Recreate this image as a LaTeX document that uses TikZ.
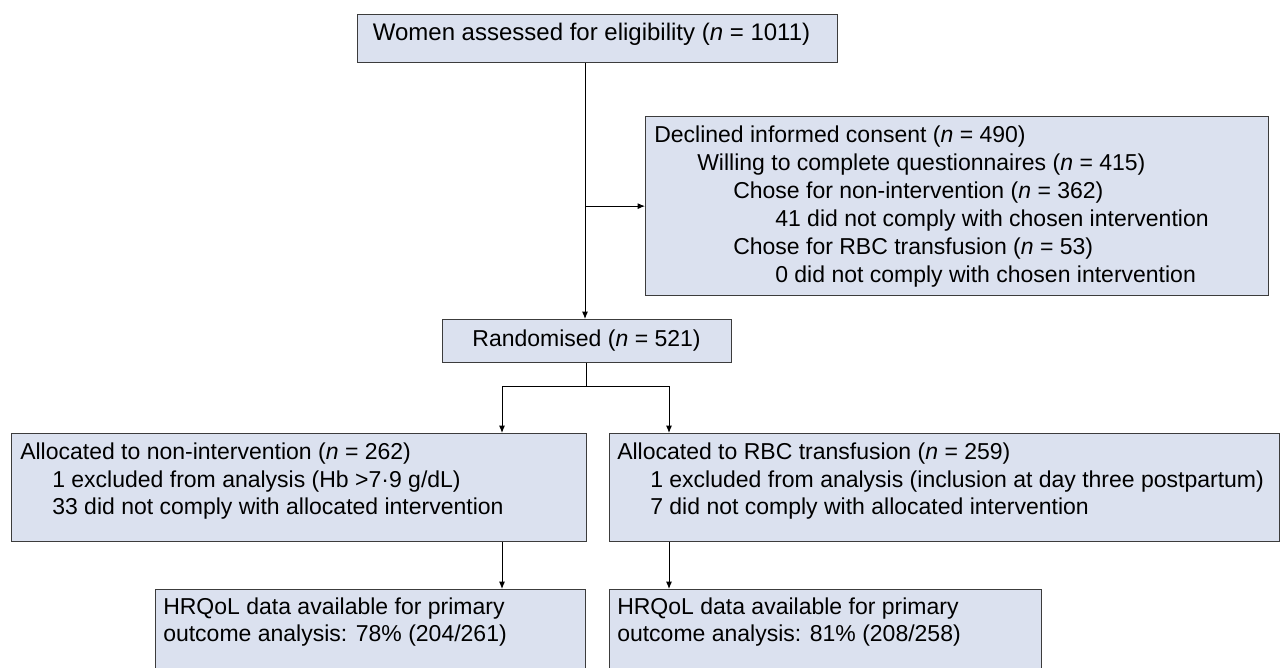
\documentclass[tikz,border=0pt]{standalone}
\usepackage{fontspec}
\setmainfont{Liberation Sans}
\usetikzlibrary{arrows.meta}
\definecolor{boxfill}{RGB}{219,225,239}
\definecolor{boxline}{RGB}{60,60,60}
\begin{document}
\begin{tikzpicture}[x=0.75pt,y=-0.75pt,
  box/.style={draw=boxline, fill=boxfill, line width=0.95pt, inner sep=0pt, anchor=north west},
  txt/.style={anchor=base west, inner sep=0pt, font=\fontsize{17.25}{21}\selectfont},
  ctxt/.style={anchor=base, inner sep=0pt, font=\fontsize{17.25}{21}\selectfont},
  arr/.style={-{Latex[length=5.5pt,width=4.5pt]}, line width=0.75pt, draw=black},
  ln/.style={line width=0.75pt, draw=black}]
\useasboundingbox (0,0) rectangle (1280,667);
\clip (0,0) rectangle (1280,667);
\fill[white] (0,0) rectangle (1280,667);

% boxes
\node[box, minimum width={480*0.75pt}, minimum height={48*0.75pt}] (top) at (357,14) {};
\node[box, minimum width={623*0.75pt}, minimum height={179*0.75pt}] (decl) at (645,116) {};
\node[box, minimum width={289*0.75pt}, minimum height={43*0.75pt}] (rand) at (442,319) {};
\node[box, minimum width={575*0.75pt}, minimum height={108*0.75pt}] (allocL) at (11,433) {};
\node[box, minimum width={670*0.75pt}, minimum height={108*0.75pt}] (allocR) at (609,433) {};
\node[box, minimum width={430*0.75pt}, minimum height={110*0.75pt}] (hrqL) at (155,589) {};
\node[box, minimum width={432*0.75pt}, minimum height={110*0.75pt}] (hrqR) at (609,589) {};

% texts
\node[ctxt, font=\fontsize{18}{21}\selectfont] (t1) at (591.5,41) {Women assessed for eligibility (\textit{n} = 1011)};

\node[txt] (d1) at (654,142) {Declined informed consent (\textit{n} = 490)};
\node[txt] (d2) at (697,170) {Willing to complete questionnaires (\textit{n} = 415)};
\node[txt] (d3) at (733,198) {Chose for non-intervention (\textit{n} = 362)};
\node[txt] (d4) at (775,226) {41 did not comply with chosen intervention};
\node[txt] (d5) at (733,254) {Chose for RBC transfusion (\textit{n} = 53)};
\node[txt] (d6) at (775,282) {0 did not comply with chosen intervention};

\node[ctxt] (r1) at (586.5,346) {Randomised (\textit{n} = 521)};

\node[txt] (l1) at (20,459) {Allocated to non-intervention (\textit{n} = 262)};
\node[txt] (l2) at (52,487) {1 excluded from analysis (Hb >7·9 g/dL)};
\node[txt] (l3) at (52,514) {33 did not comply with allocated intervention};

\node[txt] (a1) at (617,459) {Allocated to RBC transfusion (\textit{n} = 259)};
\node[txt] (a2) at (650,487) {1 excluded from analysis (inclusion at day three postpartum)};
\node[txt] (a3) at (650,514) {7 did not comply with allocated intervention};

\node[txt] (h1) at (163,614) {HRQoL data available for primary};
\node[txt] (h2) at (163,641) {outcome analysis: 78\% (204/261)};
\node[txt] (k1) at (617,614) {HRQoL data available for primary};
\node[txt] (k2) at (617,641) {outcome analysis: 81\% (208/258)};

% connectors
\coordinate (vx) at (585,0);
\draw[arr] (top.south -| vx) -- (rand.north -| vx);
\draw[arr] (decl.west -| vx) -- (decl.west);
\coordinate (split) at (586,386);
\coordinate (jL) at (502,386);
\coordinate (jR) at (669,386);
\draw[ln] (rand.south -| split) -- (split);
\draw[ln] (jL) -- (jR);
\draw[arr] (jL) -- (jL |- allocL.north);
\draw[arr] (jR) -- (jR |- allocR.north);
\draw[arr] (jL |- allocL.south) -- (jL |- hrqL.north);
\draw[arr] (jR |- allocR.south) -- (jR |- hrqR.north);
\end{tikzpicture}
\end{document}
